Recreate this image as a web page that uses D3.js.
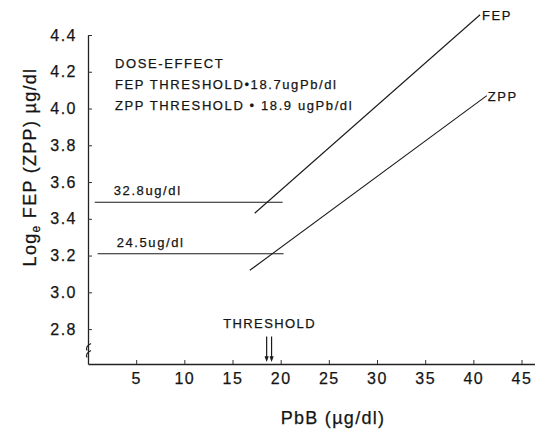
<!DOCTYPE html>
<html>
<head>
<meta charset="utf-8">
<script src="https://cdn.jsdelivr.net/npm/d3@7"></script>
<style>
  body { margin: 0; background: #fff; }
  svg text { font-family: "Liberation Sans", Arial, sans-serif; fill: #151515; stroke: #151515; stroke-width: 0.25px; }
</style>
</head>
<body>
<div id="chartContainer"></div>
<script>
// x ticks (PbB, ug/dl) and y ticks (loge FEP/ZPP)
const xTicks = [5, 10, 15, 20, 25, 30, 35, 40, 45];
const yTicks = [2.8, 3.0, 3.2, 3.4, 3.6, 3.8, 4.0, 4.2, 4.4];

// dose-effect lines [PbB, loge value]
const fepLine = [[17.3, 3.43], [40.7, 4.51]];
const zppLine = [[16.8, 3.12], [41.4, 4.07]];

// horizontal threshold levels
const levels = [
    { name: '32.8ug/dl', x0: 0.7, x1: 20.2, y: 3.49 },
    { name: '24.5ug/dl', x0: 1.0, x1: 20.3, y: 3.21 }
];
const thresholds = [18.7, 18.9];
const notes = ['DOSE-EFFECT', 'FEP THRESHOLD\u202218.7ugPb/dl', 'ZPP THRESHOLD \u2022 18.9 ugPb/dl'];

function init() {
    const width = 535;
    const height = 435;
    const margin = { top: 35, right: 0, bottom: 71, left: 88 };

    const svg = d3.select('#chartContainer')
        .append('svg')
        .attr('width', width)
        .attr('height', height);

    const scX = d3.scaleLinear()
        .domain([0, 46.4])
        .range([margin.left, width - margin.right]);

    const scY = d3.scaleLinear()
        .domain([2.61, 4.4])
        .range([height - margin.bottom, margin.top]);

    // X Axis
    const xAxis = d3.axisBottom(scX)
        .tickValues(xTicks)
        .tickSizeInner(-4)
        .tickSizeOuter(0)
        .tickPadding(9);

    const gx = svg.append('g')
        .attr('transform', `translate(0, ${height - margin.bottom})`)
        .call(xAxis);
    gx.selectAll('text')
        .style('font-size', '16px')
        .style('letter-spacing', '1.5px');

    // Y Axis
    const yAxis = d3.axisLeft(scY)
        .tickValues(yTicks)
        .tickFormat(d3.format('.1f'))
        .tickSizeInner(-4)
        .tickSizeOuter(0)
        .tickPadding(11);

    const gy = svg.append('g')
        .attr('transform', `translate(${margin.left}, 0)`)
        .call(yAxis);
    gy.selectAll('text')
        .style('font-size', '16px')
        .style('letter-spacing', '1.5px');

    svg.selectAll('.domain').attr('stroke', '#222').attr('stroke-width', 1.3);
    svg.selectAll('.tick line').attr('stroke', '#333');
    svg.selectAll('.tick text').attr('fill', '#151515');

    // axis break mark
    const bx = scX(0), by = scY(2.7);
    svg.append('path')
        .attr('d', `M${bx + 3},${by - 4} q-6,3 -4,7 M${bx + 3},${by + 3} q-6,3 -4,7`)
        .attr('fill', 'none')
        .attr('stroke', '#222')
        .attr('stroke-width', 1.1);

    const lineMaker = d3.line()
        .x(d => scX(d[0]))
        .y(d => scY(d[1]));

    svg.append('g')
        .selectAll('path')
        .data([fepLine, zppLine])
        .enter()
        .append('path')
        .attr('fill', 'none')
        .attr('stroke', '#1a1a1a')
        .attr('stroke-width', 1.1)
        .attr('d', lineMaker);

    // series labels at the line ends
    svg.append('text')
        .attr('x', scX(fepLine[1][0]) + 2)
        .attr('y', scY(fepLine[1][1]) + 5)
        .style('font-size', '13px')
        .style('letter-spacing', '1.5px')
        .text('FEP');
    svg.append('text')
        .attr('x', scX(zppLine[1][0]) + 1)
        .attr('y', scY(zppLine[1][1]) + 5)
        .style('font-size', '13px')
        .style('letter-spacing', '1.5px')
        .text('ZPP');

    // horizontal levels
    const lv = svg.append('g').selectAll('g')
        .data(levels)
        .enter()
        .append('g');
    lv.append('line')
        .attr('x1', d => scX(d.x0))
        .attr('x2', d => scX(d.x1))
        .attr('y1', d => scY(d.y))
        .attr('y2', d => scY(d.y))
        .attr('stroke', '#1a1a1a')
        .attr('stroke-width', 1.1);
    lv.append('text')
        .attr('x', d => scX(d.x0) + 19)
        .attr('y', d => scY(d.y) - 7)
        .style('font-size', '13px')
        .style('letter-spacing', '1.6px')
        .text(d => d.name);

    // notes
    svg.append('g').selectAll('text')
        .data(notes)
        .enter()
        .append('text')
        .attr('x', 115)
        .attr('y', (d, i) => 68 + i * 21)
        .style('font-size', '13px')
        .style('letter-spacing', '1.6px')
        .text(d => d);

    // threshold arrows
    const ay0 = scY(2.76), ay1 = scY(2.63);
    svg.append('g').selectAll('path')
        .data(thresholds)
        .enter()
        .append('path')
        .attr('d', (d, i) => {
            const x = scX(d) + (i === 0 ? -1.5 : 1.5);
            return `M${x},${ay0} V${ay1} M${x - 1.5},${ay1 - 4} L${x},${ay1} L${x + 1.5},${ay1 - 4}`;
        })
        .attr('fill', 'none')
        .attr('stroke', '#1a1a1a')
        .attr('stroke-width', 1.2);
    svg.append('text')
        .attr('x', scX(18.85))
        .attr('y', 328)
        .attr('text-anchor', 'middle')
        .style('font-size', '13px')
        .style('letter-spacing', '1.4px')
        .text('THRESHOLD');

    // axis titles
    svg.append('text')
        .attr('x', 333)
        .attr('y', 424)
        .attr('text-anchor', 'middle')
        .style('font-size', '18px')
        .style('letter-spacing', '1.3px')
        .text('PbB (\u00b5g/dl)');

    const yt = svg.append('text')
        .attr('transform', 'translate(36, 167) rotate(-90)')
        .attr('text-anchor', 'middle')
        .style('font-size', '18px')
        .style('letter-spacing', '1.3px');
    yt.append('tspan').text('Log');
    yt.append('tspan').attr('dy', 4).style('font-size', '12px').text('e');
    yt.append('tspan').attr('dy', -4).text(' FEP (ZPP) \u00b5g/dl');
}

init();
</script>
</body>
</html>
